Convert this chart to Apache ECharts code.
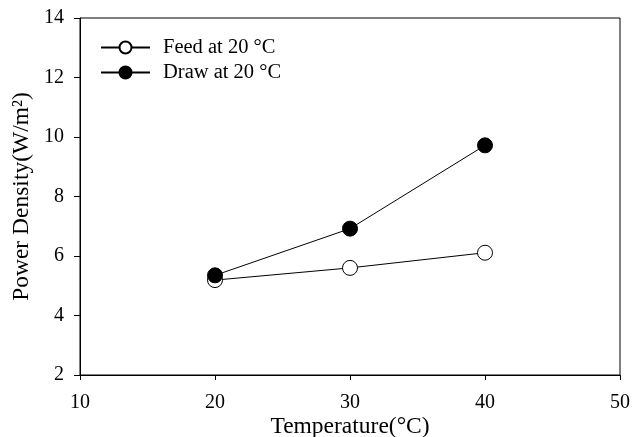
<!DOCTYPE html>
<html><head><meta charset="utf-8">
<script src="https://cdn.jsdelivr.net/npm/echarts@6/dist/echarts.min.js"></script>
<style>html,body{margin:0;padding:0;background:#fff}#c{width:639px;height:437px}</style>
</head><body><div id="c"></div>
<script>
const temps = [20, 30, 40];
const feedValues = [5.19, 5.6, 6.11];
const drawValues = [5.35, 6.92, 9.72];
const seriesNames = ['Feed at 20 °C', 'Draw at 20 °C'];
const xTicks = {min: 10, max: 50, interval: 10};
const yTicks = {min: 2, max: 14, interval: 2};
const font = '"Liberation Serif", "Times New Roman", serif';

const chart = echarts.init(document.getElementById('c'));
chart.setOption({
  animation: false,
  backgroundColor: '#fff',
  textStyle: {fontFamily: font, color: '#000'},
  grid: {left: 80, right: 19, top: 18, bottom: 62, containLabel: false, outerBoundsMode: 'none',
    show: true, borderColor: '#000', borderWidth: 1},
  legend: {
    orient: 'vertical', left: 100, top: 37, padding: 0, itemWidth: 49, itemHeight: 15, itemGap: 4,
    textStyle: {fontFamily: font, fontSize: 20.5, lineHeight: 20, color: '#000', padding: [0, 0, 0, 8]},
    data: seriesNames
  },
  xAxis: {
    type: 'value', min: xTicks.min, max: xTicks.max, interval: xTicks.interval,
    name: 'Temperature(°C)', nameLocation: 'middle', nameGap: 40, nameMoveOverlap: false,
    nameTextStyle: {fontFamily: font, fontSize: 23.5, color: '#000'},
    axisLine: {lineStyle: {color: '#000', width: 1}},
    axisTick: {show: true, length: 5, lineStyle: {color: '#000'}},
    axisLabel: {fontFamily: font, fontSize: 20, color: '#000', margin: 18},
    splitLine: {show: false}
  },
  yAxis: {
    type: 'value', min: yTicks.min, max: yTicks.max, interval: yTicks.interval,
    name: 'Power Density(W/m²)', nameLocation: 'middle', nameGap: 46, nameMoveOverlap: false, nameRotate: 90,
    nameTextStyle: {fontFamily: font, fontSize: 23.5, color: '#000'},
    axisLine: {show: true, lineStyle: {color: '#000', width: 1}},
    axisTick: {show: true, length: 6, lineStyle: {color: '#000'}},
    axisLabel: {fontFamily: font, fontSize: 20, color: '#000', margin: 16},
    splitLine: {show: false}
  },
  series: [
    {
      name: seriesNames[0], type: 'line', data: temps.map((t, i) => [t, feedValues[i]]),
      symbol: 'circle', symbolSize: 15, z: 2,
      lineStyle: {color: '#000', width: 1},
      itemStyle: {color: '#fff', borderColor: '#000', borderWidth: 1}
    },
    {
      name: seriesNames[1], type: 'line', data: temps.map((t, i) => [t, drawValues[i]]),
      symbol: 'circle', symbolSize: 15, z: 3,
      lineStyle: {color: '#000', width: 1},
      itemStyle: {color: '#000', borderColor: '#000', borderWidth: 1}
    }
  ]
});
</script>
</body></html>
